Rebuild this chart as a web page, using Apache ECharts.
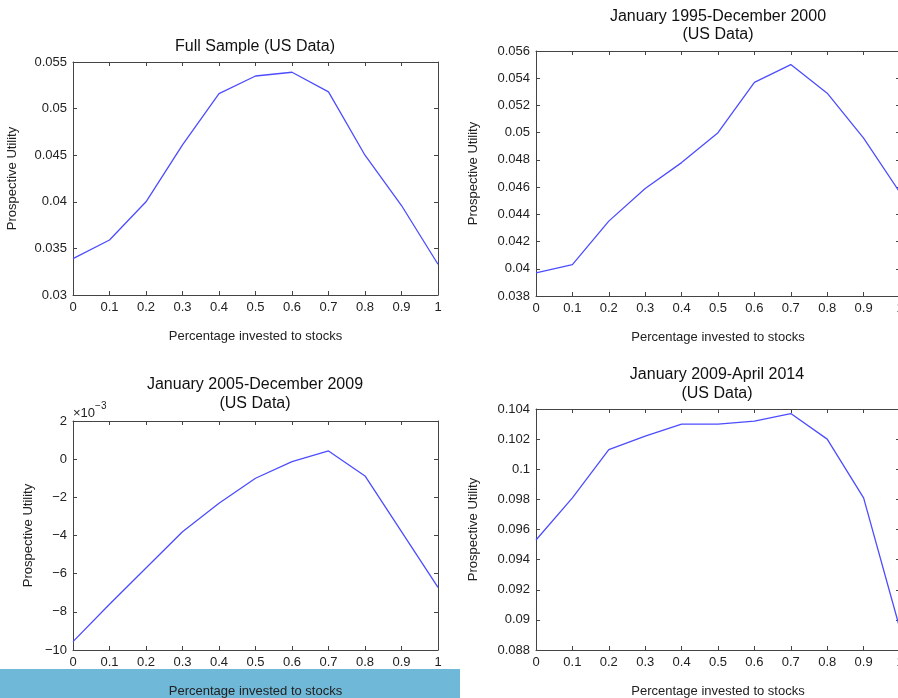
<!DOCTYPE html>
<html>
<head>
<meta charset="utf-8">
<script src="https://cdn.jsdelivr.net/npm/echarts@6/dist/echarts.min.js"></script>
<style>
  html, body { margin: 0; padding: 0; background: #fff; }
  #chart { width: 898px; height: 698px; }
</style>
</head>
<body>
<div id="chart"></div>
<script>
// Share of wealth invested in stocks (x values)
const shares = [0, 0.1, 0.2, 0.3, 0.4, 0.5, 0.6, 0.7, 0.8, 0.9, 1];

// Prospective utility for each sample period
const fullSample   = [0.0339, 0.0359, 0.0400, 0.0461, 0.0516, 0.0535, 0.0539, 0.0518, 0.0450, 0.0396, 0.0333];
const period95to00 = [0.0397, 0.0403, 0.0435, 0.0459, 0.0478, 0.0500, 0.0537, 0.0550, 0.0529, 0.0496, 0.0456];
// 2005-2009 values are given in units of 1e-3
const period05to09 = [-9.56, -7.6, -5.7, -3.8, -2.31, -1.0, -0.13, 0.43, -0.88, -3.8, -6.72];
const period09to14 = [0.0953, 0.0981, 0.1013, 0.1022, 0.1030, 0.1030, 0.1032, 0.1037, 0.1020, 0.0981, 0.0894];

const titles = [
  'Full Sample (US Data)',
  'January 1995-December 2000\n(US Data)',
  'January 2005-December 2009\n(US Data)',
  'January 2009-April 2014\n(US Data)'
];
const xName = 'Percentage invested to stocks';
const yName = 'Prospective Utility';

const FONT = '"Liberation Sans", Arial, Helvetica, sans-serif';
const INK = '#222';
const FRAME = '#444';
const LINE = '#4d4dff';

const panels = [
  { data: fullSample,   grid: { left: 73,  top: 62,  width: 365, height: 233 }, y: [0.03, 0.055, 0.005],  yGap: 54, xGap: 35, title: [250, 33],  lh: 18 },
  { data: period95to00, grid: { left: 536, top: 51,  width: 364, height: 245 }, y: [0.038, 0.056, 0.002], yGap: 56, xGap: 35, title: [713, 3],   lh: 18 },
  { data: period05to09, grid: { left: 73,  top: 421, width: 365, height: 229 }, y: [-10, 2, 2],           yGap: 38, xGap: 35, title: [250, 370], lh: 19 },
  { data: period09to14, grid: { left: 536, top: 409, width: 364, height: 241 }, y: [0.088, 0.104, 0.002], yGap: 56, xGap: 35, title: [712, 360], lh: 19 }
];

const grid = [], xAxis = [], yAxis = [], series = [], title = [];
const labelStyle = { fontFamily: FONT, fontSize: 13, color: INK };
const nameStyle = { fontFamily: FONT, fontSize: 13, color: INK };
const lineStyle = { onZero: false, lineStyle: { color: FRAME, width: 1 } };
const tickIn = { show: true, inside: true, length: 4, lineStyle: { color: FRAME, width: 1 } };

panels.forEach((p, i) => {
  // the right-hand panels run slightly past the page edge
  grid.push(Object.assign({ containLabel: false, outerBoundsMode: 'none' }, p.grid));
  title.push({
    text: titles[i], left: p.title[0], top: p.title[1], textAlign: 'center',
    textStyle: { fontFamily: FONT, fontSize: 16, fontWeight: 'normal', color: '#111', lineHeight: p.lh }
  });
  // bottom and top x axes (top one only carries the mirrored ticks)
  xAxis.push({
    gridIndex: i, type: 'value', min: 0, max: 1, interval: 0.1, position: 'bottom',
    name: xName, nameLocation: 'middle', nameGap: p.xGap, nameTextStyle: nameStyle,
    axisLine: lineStyle, axisTick: tickIn, splitLine: { show: false },
    axisLabel: Object.assign({ margin: 6, formatter: v => String(+v.toFixed(1)) }, labelStyle)
  });
  xAxis.push({
    gridIndex: i, type: 'value', min: 0, max: 1, interval: 0.1, position: 'top',
    axisLine: lineStyle, axisTick: tickIn, splitLine: { show: false }, axisLabel: { show: false }
  });
  const yFmt = i === 2
    ? v => String(Math.round(v)).replace('-', '\u2212')
    : v => String(+v.toFixed(3));
  yAxis.push({
    gridIndex: i, type: 'value', min: p.y[0], max: p.y[1], interval: p.y[2], position: 'left',
    name: yName, nameLocation: 'middle', nameGap: p.yGap, nameRotate: 90, nameTextStyle: nameStyle,
    axisLine: lineStyle, axisTick: tickIn, splitLine: { show: false },
    axisLabel: Object.assign({ margin: 6, formatter: yFmt }, labelStyle)
  });
  yAxis.push({
    gridIndex: i, type: 'value', min: p.y[0], max: p.y[1], interval: p.y[2], position: 'right',
    axisLine: lineStyle, axisTick: tickIn, splitLine: { show: false }, axisLabel: { show: false }
  });
  series.push({
    type: 'line', xAxisIndex: 2 * i, yAxisIndex: 2 * i,
    data: shares.map((s, k) => [s, p.data[k]]),
    showSymbol: false, symbol: 'none', silent: true,
    lineStyle: { color: LINE, width: 1.3 }, z: 3
  });
});

const chart = echarts.init(document.getElementById('chart'), null, { renderer: 'canvas' });
chart.setOption({
  animation: false,
  backgroundColor: '#fff',
  title, grid, xAxis, yAxis, series,
  graphic: [
    // highlighted strip behind the lower-left axis name
    { type: 'rect', z: -10, shape: { x: 0, y: 669, width: 460, height: 29 }, style: { fill: '#6fb8d8' }, silent: true },
    // exponent marker for the 2005-2009 panel
    {
      type: 'text', left: 73, top: 401, z: 10,
      style: {
        text: '{m|\u00d710}{e|\u22123}',
        rich: {
          m: { fontFamily: FONT, fontSize: 13, fill: INK, padding: [6, 0, 0, 0] },
          e: { fontFamily: FONT, fontSize: 10, fill: INK, verticalAlign: 'top', padding: [0, 0, 8, 0] }
        }
      }
    }
  ]
});
</script>
</body>
</html>
